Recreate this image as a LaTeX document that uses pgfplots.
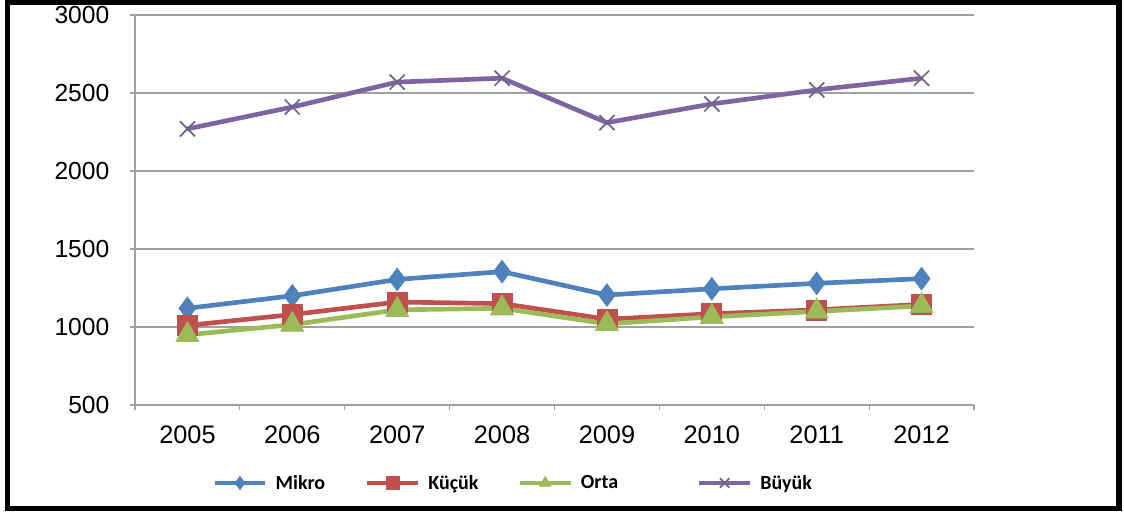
\documentclass[border=0pt]{standalone}
\usepackage{fontspec}
\setmainfont{Liberation Sans}
\newfontfamily\legfont{Carlito}
\usepackage{pgfplots}
\pgfplotsset{compat=1.18}

\definecolor{mikro}{HTML}{4F81BD}
\definecolor{kucuk}{HTML}{C0504D}
\definecolor{orta}{HTML}{9BBB59}
\definecolor{buyuk}{HTML}{8064A2}
\definecolor{cross}{HTML}{6E6487}
\definecolor{gridgray}{HTML}{A0A0A0}

\begin{document}
\begin{tikzpicture}
\useasboundingbox (0,0) rectangle (843pt,384pt);
\draw[black, line width=4pt] (5.6pt,2.6pt) rectangle (839.3pt,382.1pt);

\begin{axis}[
    at={(101.25pt,80.25pt)}, anchor=south west,
    scale only axis,
    width=629.25pt, height=292.5pt,
    xmin=2004.5, xmax=2012.5,
    ymin=500, ymax=3000,
    axis x line*=bottom, axis y line*=left,
    axis line style={gridgray, line width=0.8pt},
    ytick={500,1000,...,3000},
    ymajorgrids,
    major grid style={gridgray, line width=0.9pt},
    tick align=outside,
    major tick length=4pt,
    tick style={gridgray, line width=0.8pt},
    xtick={2004.5,2005.5,2006.5,2007.5,2008.5,2009.5,2010.5,2011.5,2012.5},
    xticklabels={},
    extra x ticks={2005,2006,2007,2008,2009,2010,2011,2012},
    extra x tick labels={2005,2006,2007,2008,2009,2010,2011,2012},
    extra x tick style={major tick length=0pt,
        tick label style={font=\fontsize{19pt}{22pt}\selectfont, yshift=-12pt}},
    yticklabel style={font=\fontsize{18.5pt}{21pt}\selectfont, inner sep=0pt, xshift=-15pt},
    /pgf/number format/assume math mode=true,
    /pgf/number format/1000 sep={},
    legend columns=4,
    legend style={at={(axis description cs:0.0918,-0.2)}, anchor=west,
        draw=none, fill=none, inner sep=0pt,
        nodes={inner sep=0pt, anchor=west, font=\legfont\bfseries\fontsize{15pt}{18pt}\selectfont},
        /tikz/every odd column/.append style={column sep=6pt},
        /tikz/every even column/.append style={column sep=0pt}},
    legend image code/.code={%
        \draw[#1, mark size=5pt, mark repeat=2, mark phase=2]
            plot coordinates {(0pt,0pt) (19pt,0pt) (38pt,0pt)};},
]
\addplot[mikro, line width=3.5pt, mark=diamond*, mark size=8.5pt,
    mark options={line width=0.5pt}] coordinates {
    (2005,1120) (2006,1200) (2007,1305) (2008,1355)
    (2009,1205) (2010,1245) (2011,1280) (2012,1310)
};
\addlegendentry{\makebox[67pt][l]{Mikro}}

\addplot[kucuk, line width=3.5pt, mark=square*, mark size=7.5pt,
    mark options={line width=0.5pt}] coordinates {
    (2005,1010) (2006,1080) (2007,1160) (2008,1150)
    (2009,1050) (2010,1085) (2011,1110) (2012,1145)
};
\addlegendentry{\makebox[67pt][l]{Küçük}}

\addplot[orta, line width=3.5pt, mark=triangle*, mark size=10pt,
    mark options={line width=0.5pt}] coordinates {
    (2005,950) (2006,1015) (2007,1110) (2008,1120)
    (2009,1020) (2010,1065) (2011,1100) (2012,1135)
};
\addlegendentry{\makebox[87pt][l]{Orta}}

\addplot[buyuk, line width=3.5pt, mark=x, mark size=8pt,
    mark options={draw=cross, line width=1.3pt}] coordinates {
    (2005,2270) (2006,2410) (2007,2570) (2008,2595)
    (2009,2310) (2010,2430) (2011,2520) (2012,2595)
};
\addlegendentry{Büyük}
\end{axis}
\end{tikzpicture}
\end{document}
